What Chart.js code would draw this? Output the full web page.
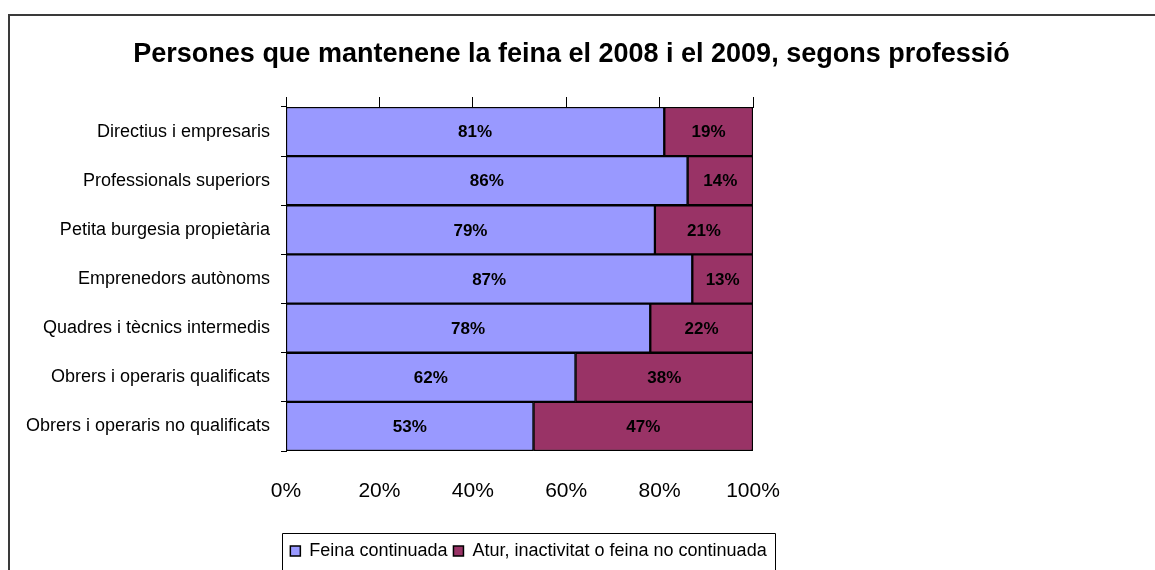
<!DOCTYPE html>
<html>
<head>
<meta charset="utf-8">
<script src="https://cdn.jsdelivr.net/npm/chart.js@4.4.1/dist/chart.umd.min.js"></script>
<style>
html,body{margin:0;padding:0;background:#fff;}
#wrap{width:1155px;height:570px;position:relative;}
</style>
</head>
<body>
<div id="wrap"><canvas id="c" width="1155" height="570"></canvas></div>
<script>
const categories = [
  'Directius i empresaris',
  'Professionals superiors',
  'Petita burgesia propietària',
  'Emprenedors autònoms',
  'Quadres i tècnics intermedis',
  'Obrers i operaris qualificats',
  'Obrers i operaris no qualificats'
];
const feinaContinuada = [81, 86, 79, 87, 78, 62, 53];
const aturInactivitat = [19, 14, 21, 13, 22, 38, 47];
const seriesNames = ['Feina continuada', 'Atur, inactivitat o feina no continuada'];
const titleText = 'Persones que mantenene la feina el 2008 i el 2009, segons professió';
const tickValues = [0, 20, 40, 60, 80, 100];

const FAM = '"Liberation Sans", Arial, sans-serif';

const framePlugin = {
  id: 'frame',
  beforeDraw(chart){
    const ctx = chart.ctx;
    ctx.save();
    ctx.strokeStyle = '#3a3a3a';
    ctx.lineWidth = 2;
    ctx.beginPath();
    ctx.moveTo(9, 572);
    ctx.lineTo(9, 15);
    ctx.lineTo(1160, 15);
    ctx.stroke();
    ctx.restore();
  },
  afterDraw(chart){
    const lg = chart.legend;
    if (!lg || !lg.legendHitBoxes || !lg.legendHitBoxes.length) return;
    const hb = lg.legendHitBoxes;
    let l = Infinity, r = -Infinity;
    hb.forEach(h => { l = Math.min(l, h.left); r = Math.max(r, h.left + h.width); });
    const ctx = chart.ctx;
    ctx.save();
    ctx.strokeStyle = '#000';
    ctx.lineWidth = 1;
    ctx.beginPath();
    const x0 = Math.round(l - 8) + 0.5, x1 = Math.round(r + 8) + 0.5, y0 = Math.round(lg.top - 3) + 0.5;
    ctx.moveTo(x0, 575);
    ctx.lineTo(x0, y0);
    ctx.lineTo(x1, y0);
    ctx.lineTo(x1, 575);
    ctx.stroke();
    ctx.restore();
  },
  afterLayout(chart){
    const lg = chart.legend;
    if (lg) { lg.left -= 43; lg.right -= 43; }
  }
};

const labelPlugin = {
  id: 'barLabels',
  afterDatasetsDraw(chart){
    const ctx = chart.ctx;
    ctx.save();
    ctx.font = 'bold 17px ' + FAM;
    ctx.fillStyle = '#000';
    ctx.textAlign = 'center';
    ctx.textBaseline = 'middle';
    chart.data.datasets.forEach((ds, di) => {
      const meta = chart.getDatasetMeta(di);
      meta.data.forEach((el, i) => {
        const x = (el.x + el.base) / 2;
        ctx.fillText(ds.data[i] + '%', x, el.y + 1);
      });
    });
    ctx.restore();
  }
};

new Chart(document.getElementById('c'), {
  type: 'bar',
  data: {
    labels: categories,
    datasets: [
      { label: seriesNames[0], data: feinaContinuada, backgroundColor: '#9999FF', borderColor: '#000', borderWidth: 1.5, borderSkipped: false },
      { label: seriesNames[1], data: aturInactivitat, backgroundColor: '#993366', borderColor: '#000', borderWidth: 1.5, borderSkipped: false }
    ]
  },
  options: {
    indexAxis: 'y',
    responsive: false,
    animation: false,
    devicePixelRatio: 1,
    datasets: { bar: { barPercentage: 1, categoryPercentage: 1 } },
    layout: { padding: { left: 0, right: 12, top: 0, bottom: 0 } },
    scales: {
      x: {
        stacked: true, min: 0, max: 100, position: 'bottom',
        afterBuildTicks(s){ s.ticks = tickValues.map(v => ({value: v})); },
        ticks: { color: '#000', font: { family: FAM, size: 21 }, padding: 28, maxRotation: 0, callback: v => v + '%' },
        grid: { display: false, drawTicks: false },
        border: { display: false },
        afterFit(s){ s.height = 85; }
      },
      x2: {
        type: 'linear', min: 0, max: 100, position: 'top',
        afterBuildTicks(s){ s.ticks = tickValues.map(v => ({value: v})); },
        ticks: { display: false },
        grid: { drawOnChartArea: false, tickLength: 10, color: '#000', lineWidth: 1 },
        border: { display: true, color: '#000', width: 1 },
        afterFit(s){ s.height = 10; }
      },
      y: {
        stacked: true, position: 'left', offset: true,
        ticks: { color: '#000', font: { family: FAM, size: 18 }, padding: 11 },
        grid: { offset: true, drawOnChartArea: false, tickLength: 5, color: '#000', lineWidth: 1 },
        border: { display: true, color: '#000', width: 1 },
        afterFit(s){ s.width = 286; }
      },
      yR: {
        type: 'linear', position: 'right',
        ticks: { display: false },
        grid: { display: false, drawTicks: false },
        border: { display: false },
        afterFit(s){ s.width = 390; }
      }
    },
    plugins: {
      title: {
        display: true, text: titleText, color: '#000',
        font: { family: FAM, size: 27, weight: 'bold', lineHeight: 1.2 },
        padding: { top: 38, bottom: 26.6 }
      },
      legend: {
        display: true, position: 'bottom',
        labels: { color: '#000', font: { family: FAM, size: 18 }, boxWidth: 10, boxHeight: 10, padding: 6 }
      },
      tooltip: { enabled: false }
    }
  },
  plugins: [framePlugin, labelPlugin]
});
</script>
</body>
</html>
